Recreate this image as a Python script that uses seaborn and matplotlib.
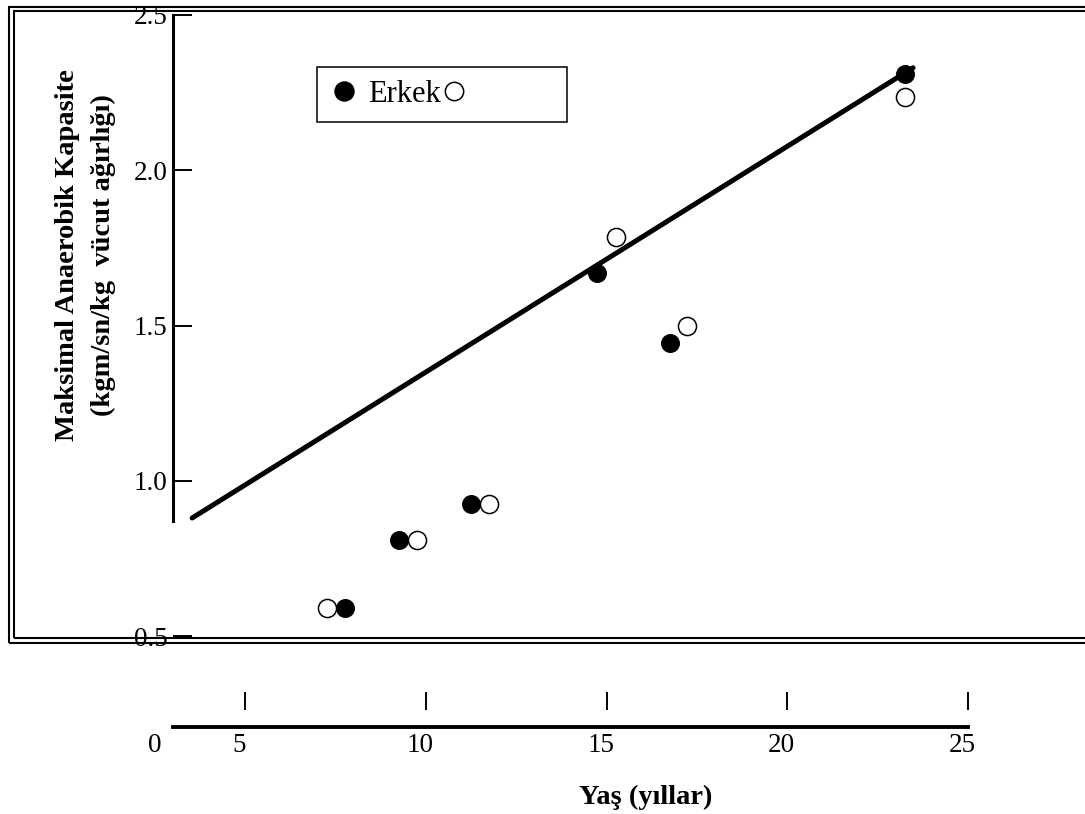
import matplotlib
matplotlib.use('Agg')
import matplotlib.pyplot as plt
import seaborn as sns
from matplotlib.lines import Line2D
from matplotlib.patches import Rectangle
from matplotlib.transforms import ScaledTranslation

# %%
# values
age_erkek = [7.76, 9.25, 11.25, 14.73, 16.75, 23.25]
cap_erkek = [0.59, 0.81, 0.925, 1.67, 1.445, 2.31]

age_kiz = [7.26, 9.75, 11.74, 15.27, 17.23, 23.25]
cap_kiz = [0.59, 0.81, 0.925, 1.785, 1.50, 2.235]

fit_age = [3.53, 23.48]
fit_cap = [0.88, 2.33]

y_ticks = [0.5, 1.0, 1.5, 2.0, 2.5]
x_ticks = [2.65, 5, 10, 15, 20, 25]
x_ticklabels = ['0', '5', '10', '15', '20', '25']

# %%
sns.set_style('white')
plt.rcParams['font.family'] = ['Liberation Serif', 'DejaVu Serif']
plt.rcParams.update({'text.color': 'black', 'axes.labelcolor': 'black',
                     'xtick.color': 'black', 'ytick.color': 'black'})

W, H = 1085, 814
fig = plt.figure(figsize=(W / 100, H / 100), dpi=100)


def box(left, top, right, bottom):
    # pixel box -> figure fraction
    return [left / W, 1 - bottom / H, (right - left) / W, (bottom - top) / H]


# main plotting area, x 3..25 and y 0.5..2.5
ax = fig.add_axes(box(173, 15, 968, 636))
ax.patch.set_visible(False)

sns.lineplot(x=fit_age, y=fit_cap, color='black', lw=3.6, ax=ax, zorder=2)
sns.scatterplot(x=age_erkek, y=cap_erkek, color='black', s=187, linewidth=0,
                ax=ax, zorder=3)
sns.scatterplot(x=age_kiz, y=cap_kiz, color='white', edgecolor='black', s=170,
                linewidth=1.1, ax=ax, zorder=3)

ax.set_xlim(3, 25)
ax.set_ylim(0.5, 2.5)
for s in ['top', 'right', 'bottom']:
    ax.spines[s].set_visible(False)
ax.spines['left'].set_linewidth(2.2)
ax.spines['left'].set_color('black')
ax.spines['left'].set_bounds(0.87, 2.5)
ax.set_xticks([])
ax.set_yticks(y_ticks)
ax.set_yticklabels([f'{v:.1f}' for v in y_ticks])
ax.tick_params(axis='y', left=True, direction='in', length=13.5, width=1.4,
               color='black', labelsize=19.5, pad=4)

ax.set_ylabel('Maksimal Anaerobik Kapasite\n(kgm/sn/kg  vücut ağırlığı)',
              fontsize=20.5, fontweight='bold', linespacing=1.6)
ax.yaxis.set_label_coords(-0.0715, 0.6135)

# legend: ● Erkek ○
handles = [
    Line2D([], [], marker='o', ls='', ms=13.7, mfc='black', mec='black'),
    Line2D([], [], marker='o', ls='', ms=13.2, mfc='white', mec='black', mew=1.1),
]
leg = ax.legend(handles, ['Erkek', '\u00a0' * 10], ncol=2, loc='upper left',
                bbox_to_anchor=(317 / W, 1 - 67 / H), bbox_transform=fig.transFigure,
                frameon=True, fancybox=False, edgecolor='black', framealpha=1,
                borderpad=0.42, handlelength=0.95, handletextpad=0.3,
                columnspacing=-0.05, borderaxespad=0, fontsize=22)
leg.get_frame().set_linewidth(1.1)

# separate x axis drawn below the frame
x_px = 36.14
ax2 = fig.add_axes(box(173 - 1.0 * x_px, 710, 968, 727))
ax2.patch.set_visible(False)
ax2.set_xlim(2.0, 25)
ax2.set_ylim(0, 1)
for s in ['top', 'left', 'right']:
    ax2.spines[s].set_visible(False)
ax2.spines['bottom'].set_linewidth(2.8)
ax2.spines['bottom'].set_color('black')
ax2.spines['bottom'].set_bounds(3, 25)
ax2.set_yticks([])
ax2.set_xticks(x_ticks)
ax2.set_xticklabels(x_ticklabels)
ax2.tick_params(axis='x', top=True, bottom=False, labeltop=False, labelbottom=True,
                direction='out', length=13, width=1.4, color='black',
                labelsize=19.5, pad=-8.5)
ax2.xaxis.get_major_ticks()[0].tick2line.set_visible(False)
shift = ScaledTranslation(-6 / 100, 0, fig.dpi_scale_trans)
for lab in ax2.get_xticklabels():
    lab.set_transform(lab.get_transform() + shift)

ax2.set_xlabel('Yaş (yıllar)', fontsize=20.5, fontweight='bold')
ax2.xaxis.set_label_coords((646 - (173 - x_px)) / (968 - 173 + x_px), -3.4)

# double frame around the chart
for (l, t, b) in [(9, 7, 643), (14, 11, 638)]:
    fig.add_artist(Rectangle((l / W, 1 - b / H), (W + 40 - l) / W, (b - t) / H,
                             transform=fig.transFigure, fill=False,
                             edgecolor='black', lw=1.5, clip_on=False))

fig.savefig('out.png', dpi=100)
